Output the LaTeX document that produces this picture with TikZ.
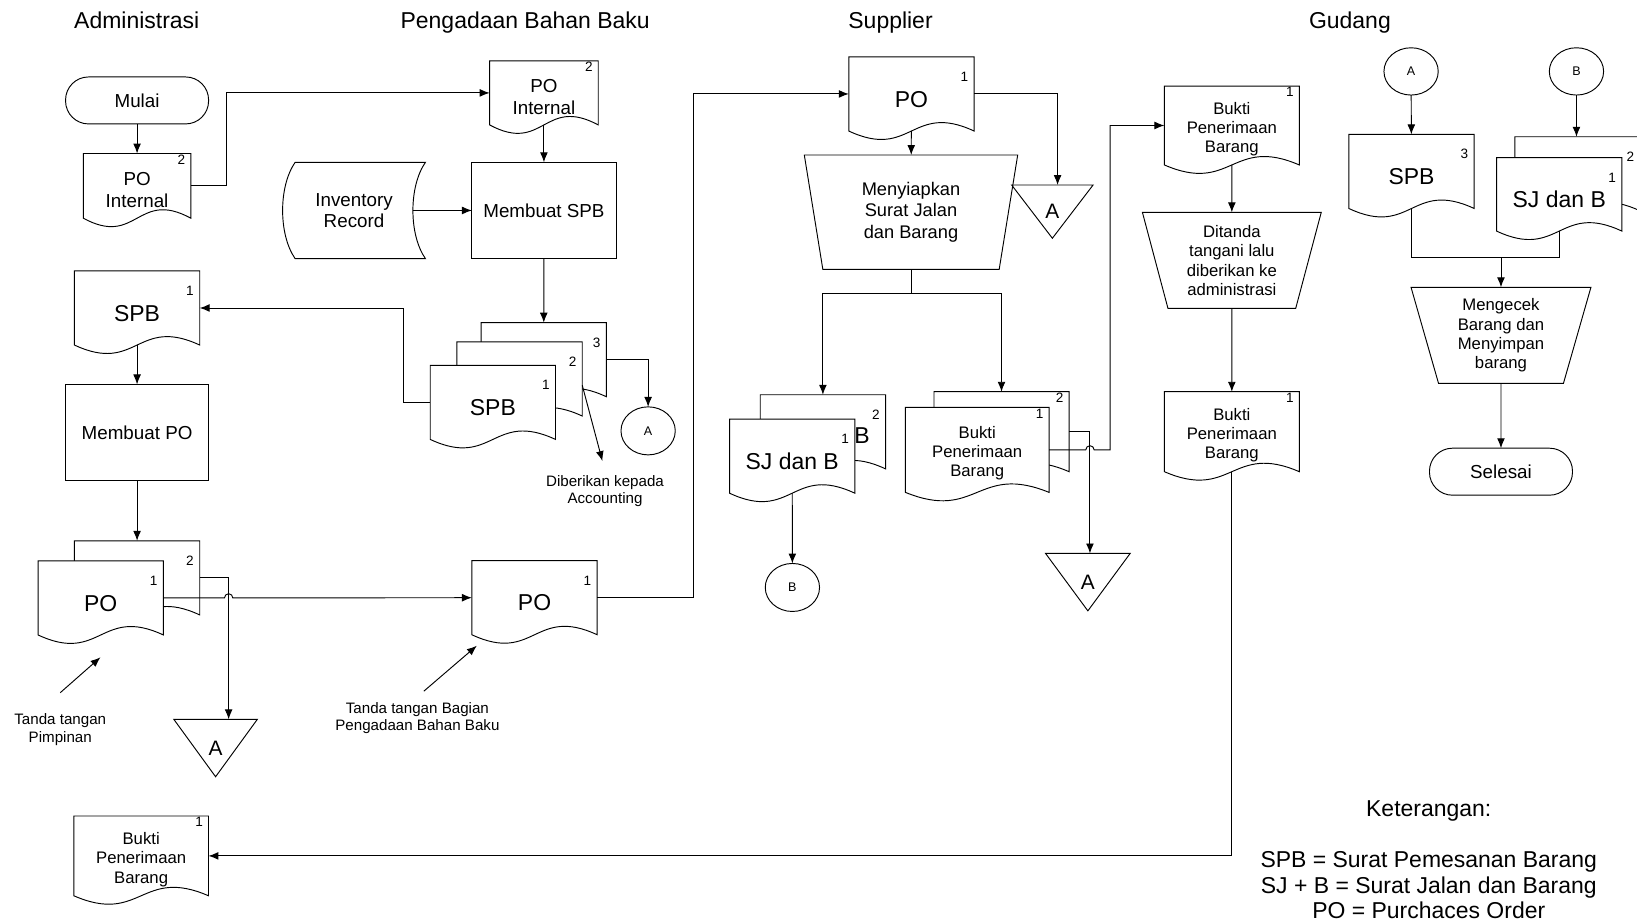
\documentclass[tikz,border=0pt]{standalone}
\usepackage{fontspec}
\setmainfont{Liberation Sans}
\usetikzlibrary{shapes, arrows.meta}

\makeatletter
% document symbol: box with a wavy bottom edge
\pgfdeclareshape{docshape}{%
  \inheritsavedanchors[from=rectangle]%
  \inheritanchorborder[from=rectangle]%
  \inheritanchor[from=rectangle]{center}%
  \inheritanchor[from=rectangle]{north}%
  \inheritanchor[from=rectangle]{south}%
  \inheritanchor[from=rectangle]{east}%
  \inheritanchor[from=rectangle]{west}%
  \inheritanchor[from=rectangle]{north east}%
  \inheritanchor[from=rectangle]{north west}%
  \inheritanchor[from=rectangle]{south east}%
  \inheritanchor[from=rectangle]{south west}%
  \backgroundpath{%
    \southwest \edef\dcxa{\the\pgf@x}\edef\dcya{\the\pgf@y}%
    \northeast \edef\dcxb{\the\pgf@x}\edef\dcyb{\the\pgf@y}%
    \pgf@x=\dcxa \advance\pgf@x by \dcxb \pgf@x=.5\pgf@x \edef\dcxc{\the\pgf@x}%
    \pgf@y=\dcya \advance\pgf@y by 28pt \edef\dcyu{\the\pgf@y}%
    \pgf@y=\dcya \advance\pgf@y by -28pt \edef\dcyd{\the\pgf@y}%
    \pgfpathmoveto{\pgfqpoint{\dcxa}{\dcya}}%
    \pgfpathlineto{\pgfqpoint{\dcxa}{\dcyb}}%
    \pgfpathlineto{\pgfqpoint{\dcxb}{\dcyb}}%
    \pgfpathlineto{\pgfqpoint{\dcxb}{\dcya}}%
    \pgfpathcurveto{\pgfqpoint{\dcxc}{\dcyu}}{\pgfqpoint{\dcxc}{\dcyd}}{\pgfqpoint{\dcxa}{\dcya}}%
    \pgfpathclose
  }%
}
% off-page connector: triangle pointing down
\pgfdeclareshape{offpageshape}{%
  \inheritsavedanchors[from=rectangle]%
  \inheritanchorborder[from=rectangle]%
  \inheritanchor[from=rectangle]{center}%
  \inheritanchor[from=rectangle]{north}%
  \inheritanchor[from=rectangle]{south}%
  \inheritanchor[from=rectangle]{east}%
  \inheritanchor[from=rectangle]{west}%
  \backgroundpath{%
    \southwest \edef\opxa{\the\pgf@x}\edef\opya{\the\pgf@y}%
    \northeast \edef\opxb{\the\pgf@x}\edef\opyb{\the\pgf@y}%
    \pgf@x=\opxa \advance\pgf@x by \opxb \pgf@x=.5\pgf@x \edef\opxc{\the\pgf@x}%
    \pgfpathmoveto{\pgfqpoint{\opxa}{\opyb}}%
    \pgfpathlineto{\pgfqpoint{\opxb}{\opyb}}%
    \pgfpathlineto{\pgfqpoint{\opxc}{\opya}}%
    \pgfpathclose
  }%
}
% stored data: both sides bent to the left
\newdimen\sdlo \newdimen\sdhi
\pgfdeclareshape{storeshape}{%
  \inheritsavedanchors[from=rectangle]%
  \inheritanchorborder[from=rectangle]%
  \inheritanchor[from=rectangle]{center}%
  \inheritanchor[from=rectangle]{north}%
  \inheritanchor[from=rectangle]{south}%
  \inheritanchor[from=rectangle]{east}%
  \inheritanchor[from=rectangle]{west}%
  \backgroundpath{%
    \southwest \sdlo=\pgf@y \edef\sdxa{\the\pgf@x}\edef\sdya{\the\pgf@y}%
    \northeast \sdhi=\pgf@y \edef\sdxb{\the\pgf@x}\edef\sdyb{\the\pgf@y}%
    \pgf@y=.25\sdlo \advance\pgf@y by .75\sdhi \edef\sdyu{\the\pgf@y}%
    \pgf@y=.75\sdlo \advance\pgf@y by .25\sdhi \edef\sdyd{\the\pgf@y}%
    \pgf@x=\sdxa \advance\pgf@x by 12pt \edef\sdxl{\the\pgf@x}%
    \pgf@x=\sdxa \advance\pgf@x by -4pt \edef\sdxlc{\the\pgf@x}%
    \pgf@x=\sdxb \advance\pgf@x by -16pt \edef\sdxrc{\the\pgf@x}%
    \pgfpathmoveto{\pgfqpoint{\sdxl}{\sdyb}}%
    \pgfpathlineto{\pgfqpoint{\sdxb}{\sdyb}}%
    \pgfpathcurveto{\pgfqpoint{\sdxrc}{\sdyu}}{\pgfqpoint{\sdxrc}{\sdyd}}{\pgfqpoint{\sdxb}{\sdya}}%
    \pgfpathlineto{\pgfqpoint{\sdxl}{\sdya}}%
    \pgfpathcurveto{\pgfqpoint{\sdxlc}{\sdyd}}{\pgfqpoint{\sdxlc}{\sdyu}}{\pgfqpoint{\sdxl}{\sdyb}}%
    \pgfpathclose
  }%
}
\makeatother
% raises the first line of a document's text so it sits a little low
\newcommand{\docstrut}{\rule{0pt}{1.15em}}

\tikzstyle{fbig} = [font=\fontsize{22}{24}\selectfont]
\tikzstyle{fmid} = [font=\fontsize{18}{20.5}\selectfont]
\tikzstyle{fsmall} = [font=\fontsize{16}{18.5}\selectfont]
\tikzstyle{ftiny} = [font=\fontsize{14.5}{16.5}\selectfont]
\tikzstyle{doc} = [docshape, draw, fill=white, align=center, inner sep=0pt, outer sep=0pt,
    minimum width=120pt, minimum height=71pt, fbig, execute at begin node={\docstrut}]
\tikzstyle{block} = [rectangle, draw, fill=white, align=center, inner sep=0pt, outer sep=0pt,
    minimum width=137pt, minimum height=92pt, fmid]
\tikzstyle{store} = [storeshape, draw, align=center, inner sep=0pt, outer sep=0pt,
    minimum width=137pt, minimum height=92pt, fmid]
\tikzstyle{terminal} = [rectangle, rounded corners=22pt, draw, inner sep=0pt, outer sep=0pt,
    minimum width=137pt, minimum height=45pt, fmid]
\tikzstyle{manual} = [trapezium, trapezium stretches body, shape border rotate=180, draw,
    align=center, inner sep=0pt, outer sep=0pt, trapezium angle=70, minimum height=92pt, fsmall]
\tikzstyle{offpage} = [offpageshape, draw, inner sep=0pt, outer sep=0pt,
    minimum width=80pt, minimum height=55pt, font=\fontsize{20}{20}\selectfont]
\tikzstyle{connector} = [ellipse, draw, inner sep=0pt, outer sep=0pt,
    minimum width=52pt, minimum height=46pt, font=\fontsize{12}{12}\selectfont]
\tikzstyle{line} = [draw, -{Latex[length=9.5pt, width=7.5pt]}]
\tikzstyle{note} = [align=center, ftiny]
\tikzstyle{title} = [anchor=base, fbig]
\tikzstyle{num} = [inner sep=0pt, anchor=center, xshift=-9.3pt, yshift=-19pt,
    execute at begin node={}, font=\fontsize{13}{13}\selectfont]
\tikzstyle{numhi} = [inner sep=0pt, anchor=center, xshift=-9pt, yshift=-6pt,
    execute at begin node={}, font=\fontsize{13}{13}\selectfont]

\begin{document}
\begin{tikzpicture}[x=1pt, y=-1pt, line width=0.9pt]
        \useasboundingbox [fill=white] (0,0) rectangle (1568,884);
        \clip (0,0) rectangle (1568,884);
        % Lane titles
        \node [title] (tadm) at (131,27) {Administrasi};
        \node [title] (tpbb) at (503,27) {Pengadaan Bahan Baku};
        \node [title] (tsup) at (853,27) {Supplier};
        \node [title] (tgud) at (1293,27) {Gudang};
        % Administrasi
        \node [terminal] (mulai) at (131.3,96.2) {Mulai};
        \node [doc, node distance=81.8pt, below of=mulai, minimum width=103pt, minimum height=62pt,
            fmid, label={[numhi]north east:2}] (poi1) {\docstrut PO\\Internal};
        \node [doc, node distance=117pt, below of=poi1, label={[num]north east:1}] (spb1) {SPB};
        \node [block, node distance=119.2pt, below of=spb1] (mpo) {Membuat PO};
        \node [doc, node distance=139.3pt, below of=mpo, label={[num]north east:2}] (po2) {};
        \node [doc, label={[num]north east:1}] (po1) at (96.5,572.7) {PO};
        \node [offpage] (triA1) at (206.5,716.5) {A};
        \node [note] (ttp) at (57.7,698.8) {Tanda tangan\\Pimpinan};
        \node [doc, minimum width=129pt, minimum height=76.4pt, fsmall,
            label={[numhi]north east:1}] (bukti1) at (135.2,819.8) {\docstrut Bukti\\Penerimaan\\Barang};
        % Pengadaan Bahan Baku
        \node [doc, minimum width=104pt, minimum height=61.3pt, fmid,
            label={[numhi]north east:2}] (poi2) at (521,89) {\docstrut PO\\Internal};
        \node [block, minimum width=138pt, minimum height=92.3pt] (mspb) at (521,201.6) {Membuat SPB};
        \node [store, minimum width=136.8pt, minimum height=92.3pt] (inv) at (339.1,201.6) {Inventory\\Record};
        \node [doc, label={[num]north east:3}] (s3) at (520.8,344.5) {};
        \node [doc, label={[num]north east:2}] (s2) at (497.7,363) {};
        \node [doc, label={[num]north east:1}] (s1) at (472.1,385.4) {SPB};
        \node [connector] (circA1) at (620.8,412.7) {A};
        \node [note] (acc) at (579.5,470.5) {Diberikan kepada\\Accounting};
        \node [doc, label={[num]north east:1}] (po3) at (512,572.5) {PO};
        \node [note] (ttb) at (399.8,687.5) {Tanda tangan Bagian\\Pengadaan Bahan Baku};
        % Supplier
        \node [doc, label={[num]north east:1}] (po4) at (873,90) {PO};
        \node [offpage, minimum width=78pt, minimum height=51pt] (triA2) at (1008,202.7) {A};
        \node [manual, minimum width=204.4pt, minimum height=109.5pt, trapezium angle=72.8,
            font=\fontsize{17.5}{20.5}\selectfont] (man1) at (872.6,203.2) {Menyiapkan\\Surat Jalan\\dan Barang};
        \node [doc, label={[num]north east:2}] (sj2) at (788.2,413.6) {};
        \node [fbig, inner sep=0pt] (sj2b) at (825.8,417.6) {B};
        \node [doc, label={[num]north east:1}] (sj1) at (758.8,436.9) {SJ dan B};
        \node [connector] (circB1) at (759,562.7) {B};
        \node [doc, minimum width=129.4pt, minimum height=76.6pt, label={[numhi]north east:2}] (bpb2) at (959.3,413.5) {};
        \node [doc, minimum width=137.6pt, minimum height=81.4pt, font=\fontsize{16}{18}\selectfont,
            label={[numhi]north east:1}] (bpb1) at (936,430.9) {\docstrut Bukti\\Penerimaan\\Barang};
        \node [offpage, minimum width=81pt] (triA3) at (1042,557.6) {A};
        % Gudang
        \node [doc, minimum width=129.2pt, minimum height=75.6pt, fsmall,
            label={[numhi]north east:1}] (bg1) at (1179.9,120.2) {\docstrut Bukti\\Penerimaan\\Barang};
        \node [manual, minimum width=171.3pt, node distance=129.2pt, below of=bg1]
            (man2) {Ditanda\\tangani lalu\\diberikan ke\\administrasi};
        \node [doc, minimum width=129.2pt, minimum height=76.6pt, fsmall, node distance=164.1pt,
            below of=man2, label={[numhi]north east:1}] (bg2) {\docstrut Bukti\\Penerimaan\\Barang};
        \node [connector, minimum height=45.3pt] (circA2) at (1351.6,68.4) {A};
        \node [connector, minimum height=45.3pt] (circB2) at (1510,68.4) {B};
        \node [doc, label={[num]north east:3}] (spbg) at (1352,164.2) {SPB};
        \node [doc, label={[num]north east:2}] (sjg2) at (1511,166.5) {};
        \node [doc, minimum height=70.3pt, label={[num]north east:1}] (sjg1) at (1493.5,186.2) {SJ dan B};
        \node [manual, minimum width=172.3pt, trapezium angle=69.5]
            (man3) at (1437.7,321.2) {Mengecek\\Barang dan\\Menyimpan\\barang};
        \node [terminal, node distance=130.6pt, below of=man3] (selesai) {Selesai};
        \node [align=center, font=\fontsize{22}{24.5}\selectfont] (legend) at (1368.5,823.5)
            {Keterangan:\\[24.5pt]SPB = Surat Pemesanan Barang\\SJ + B = Surat Jalan dan Barang\\PO = Purchaces Order};
        % Free ends of the note arrows
        \coordinate (sig1a) at (57.7,663.5);
        \coordinate (sig1b) at (96.2,629.6);
        \coordinate (sig2a) at (406,662);
        \coordinate (sig2b) at (456.7,618.5);
        \coordinate (acctip) at (577,441.6);
        % Draw edges
        \path [line] (mulai) -- (poi1);
        \path [line] (poi1.east) -- ++(34,0) |- (poi2.west);
        \path [line] (poi2) -- (mspb);
        \path [line] ([xshift=-12pt]inv.east) -- (mspb.west);
        \path [line] (mspb) -- (s3);
        \path [line] (s1.west) -- ++(-25.2,0) |- (spb1.east);
        \path [line] (s3.east) -| (circA1.north);
        \path [line] ([yshift=-6pt]s2.east) -- (acctip);
        \path [line] (spb1) -- (mpo);
        \path [line] (mpo) -- (po2);
        \path [line] (po2.east) -| ([xshift=12.5pt]triA1.north);
        \path [line] (po1.east) -- ++(58.5,0) arc [start angle=180, end angle=0, radius=4pt] -- (po3.west);
        \path [line] (sig1a) -- (sig1b);
        \path [line] (sig2a) -- (sig2b);
        \path [line] (po3.east) -- ++(92,0) |- (po4.west);
        \path [line] (po4.east) -| ([xshift=5pt]triA2.north);
        \path [line] (po4) -- (man1);
        \draw (man1.south) -- ++(0,23) coordinate (split);
        \path [line] (split) -| (sj2.north);
        \path [line] (split) -| (bpb2.north);
        \path [line] (sj1) -- (circB1);
        \path [line] (bpb2.east) -| ([xshift=2pt]triA3.north);
        \path [line] (bpb1.east) -- ++(35.2,0) arc [start angle=180, end angle=0, radius=4pt] -- ++(15.3,0) |- (bg1.west);
        \path [line] (bg1) -- (man2);
        \path [line] (man2) -- (bg2);
        \path [line] (bg2.south) |- (bukti1.east);
        \path [line] (circA2) -- (spbg);
        \path [line] (circB2) -- (circB2 |- sjg2.north);
        \draw (spbg.south) -- ++(0,46.9) coordinate (merge) -| (sjg1.south);
        \path [line] (merge -| man3.north) -- (man3.north);
        \path [line] (man3) -- (selesai);
    \end{tikzpicture}
\end{document}
